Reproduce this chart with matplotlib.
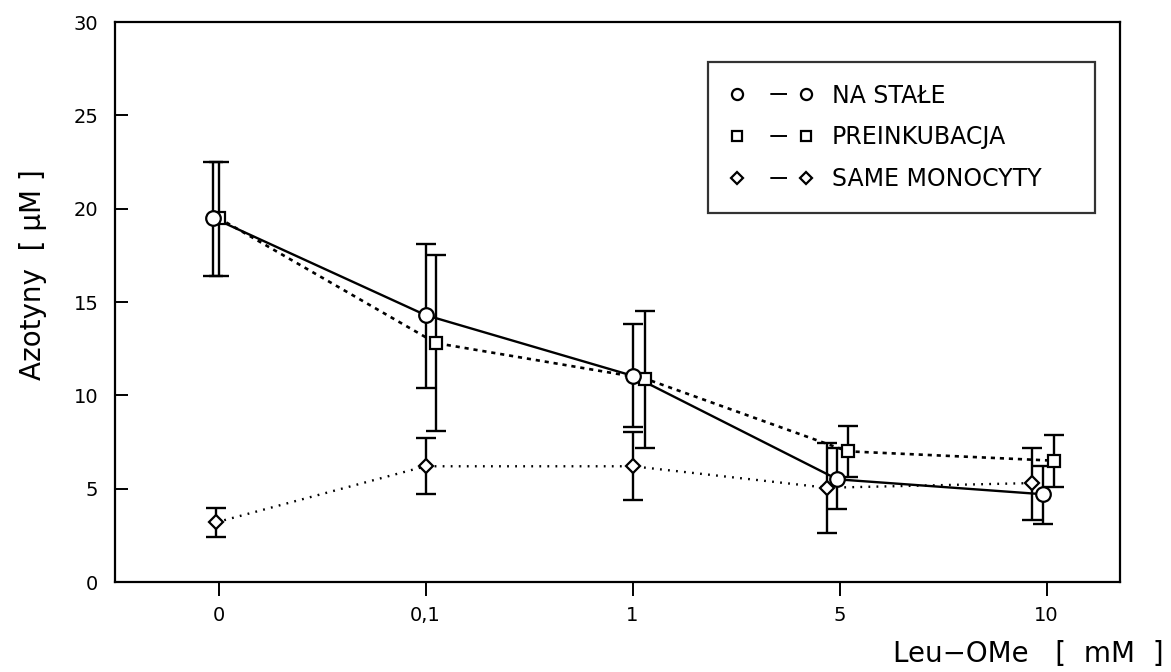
import matplotlib
matplotlib.use("Agg")
import matplotlib.pyplot as plt
from matplotlib.lines import Line2D
import numpy as np

plt.rcParams['font.family'] = ['DejaVu Sans']
plt.rcParams['lines.scale_dashes'] = False

# ---- data ----
categories = ['0', '0,1', '1', '5', '10']
yticks = [0, 5, 10, 15, 20, 25, 30]

na_stale = [19.5, 14.3, 11.05, 5.5, 4.7]
na_stale_lo = [16.4, 10.4, 8.3, 3.9, 3.1]
na_stale_hi = [22.5, 18.1, 13.8, 7.2, 6.2]

preinkubacja = [19.5, 12.8, 10.9, 7.0, 6.5]
preinkubacja_lo = [16.4, 8.1, 7.2, 5.6, 5.1]
preinkubacja_hi = [22.5, 17.5, 14.5, 8.35, 7.9]

same_monocyty = [3.2, 6.2, 6.2, 5.05, 5.3]
same_monocyty_lo = [2.4, 4.7, 4.4, 2.6, 3.3]
same_monocyty_hi = [3.95, 7.7, 8.05, 7.45, 7.2]

labels = ['NA STAŁE', 'PREINKUBACJA', 'SAME MONOCYTY']

# small horizontal shifts of the series (style, to mimic original jitter)
shift_circle = np.array([-0.025, 0.0, 0.0, -0.01, -0.015])
shift_square = np.array([0.0, 0.05, 0.06, 0.04, 0.035])
shift_diamond = np.array([-0.01, 0.0, 0.0, -0.06, -0.07])

fig = plt.figure(figsize=(11.71, 6.72), dpi=100)
ax = fig.add_axes([115/1171, 90/672, 1005/1171, 560/672])

xpos = np.arange(len(categories))

def draw(vals, lo, hi, shift, marker, ms, ls, lw):
    vals = np.array(vals); lo = np.array(lo); hi = np.array(hi)
    x = xpos + shift
    ax.errorbar(x, vals, yerr=[vals - lo, hi - vals], fmt='none',
                ecolor='black', elinewidth=1.7, capsize=7, capthick=1.7, zorder=2)
    ax.plot(x, vals, linestyle=ls, color='black', linewidth=lw, zorder=3)
    ax.plot(x, vals, linestyle='none', marker=marker, markersize=ms,
            markerfacecolor='white', markeredgecolor='black',
            markeredgewidth=1.6, zorder=4)

draw(same_monocyty, same_monocyty_lo, same_monocyty_hi, shift_diamond, 'D', 7, (0, (1.3, 4.5)), 1.7)
draw(preinkubacja, preinkubacja_lo, preinkubacja_hi, shift_square, 's', 8, (0, (3, 3.5)), 1.9)
draw(na_stale, na_stale_lo, na_stale_hi, shift_circle, 'o', 10.5, '-', 1.7)

ax.set_xlim(-0.5, 4.355)
ax.set_ylim(0, 30)
ax.set_xticks(xpos)
ax.set_xticklabels(categories, fontsize=14)
ax.set_yticks(yticks)
ax.set_yticklabels([str(v) for v in yticks], fontsize=14)

for s in ax.spines.values():
    s.set_linewidth(1.6)

ax.tick_params(axis='y', direction='in', length=9, width=1.4, pad=12)
ax.tick_params(axis='x', direction='out', length=10, width=1.4, pad=7)

ax.set_ylabel('Azotyny  [ μM ]', fontsize=20)
ax.yaxis.set_label_coords(-0.068, 0.548)
fig.text(0.994, 0.006, 'Leu\u2212OMe   [  mM  ]', fontsize=20, ha='right', va='bottom')

# ---- legend ----
fs = 17
L = 60.0  # handle length in points
dash = (0.6 * L, (0.2 * L, 0.8 * L))
handles = [
    Line2D([], [], color='black', linestyle=dash, linewidth=1.4, marker='o', markersize=8,
           markerfacecolor='white', markeredgecolor='black', markeredgewidth=1.6),
    Line2D([], [], color='black', linestyle=dash, linewidth=1.4, marker='s', markersize=7,
           markerfacecolor='white', markeredgecolor='black', markeredgewidth=1.6),
    Line2D([], [], color='black', linestyle=dash, linewidth=1.4, marker='D', markersize=6,
           markerfacecolor='white', markeredgecolor='black', markeredgewidth=1.6),
]
leg = ax.legend(handles, labels, loc='upper left',
                bbox_to_anchor=(0.590, 0.5, 0.385, 0.4286), mode='expand',
                fontsize=fs, handlelength=L / fs, numpoints=2, frameon=True,
                fancybox=False, edgecolor='black', borderpad=0.92, labelspacing=0.75,
                handletextpad=0.8, borderaxespad=0.0)
leg.get_frame().set_linewidth(1.6)

fig.savefig('out.png', dpi=100)
